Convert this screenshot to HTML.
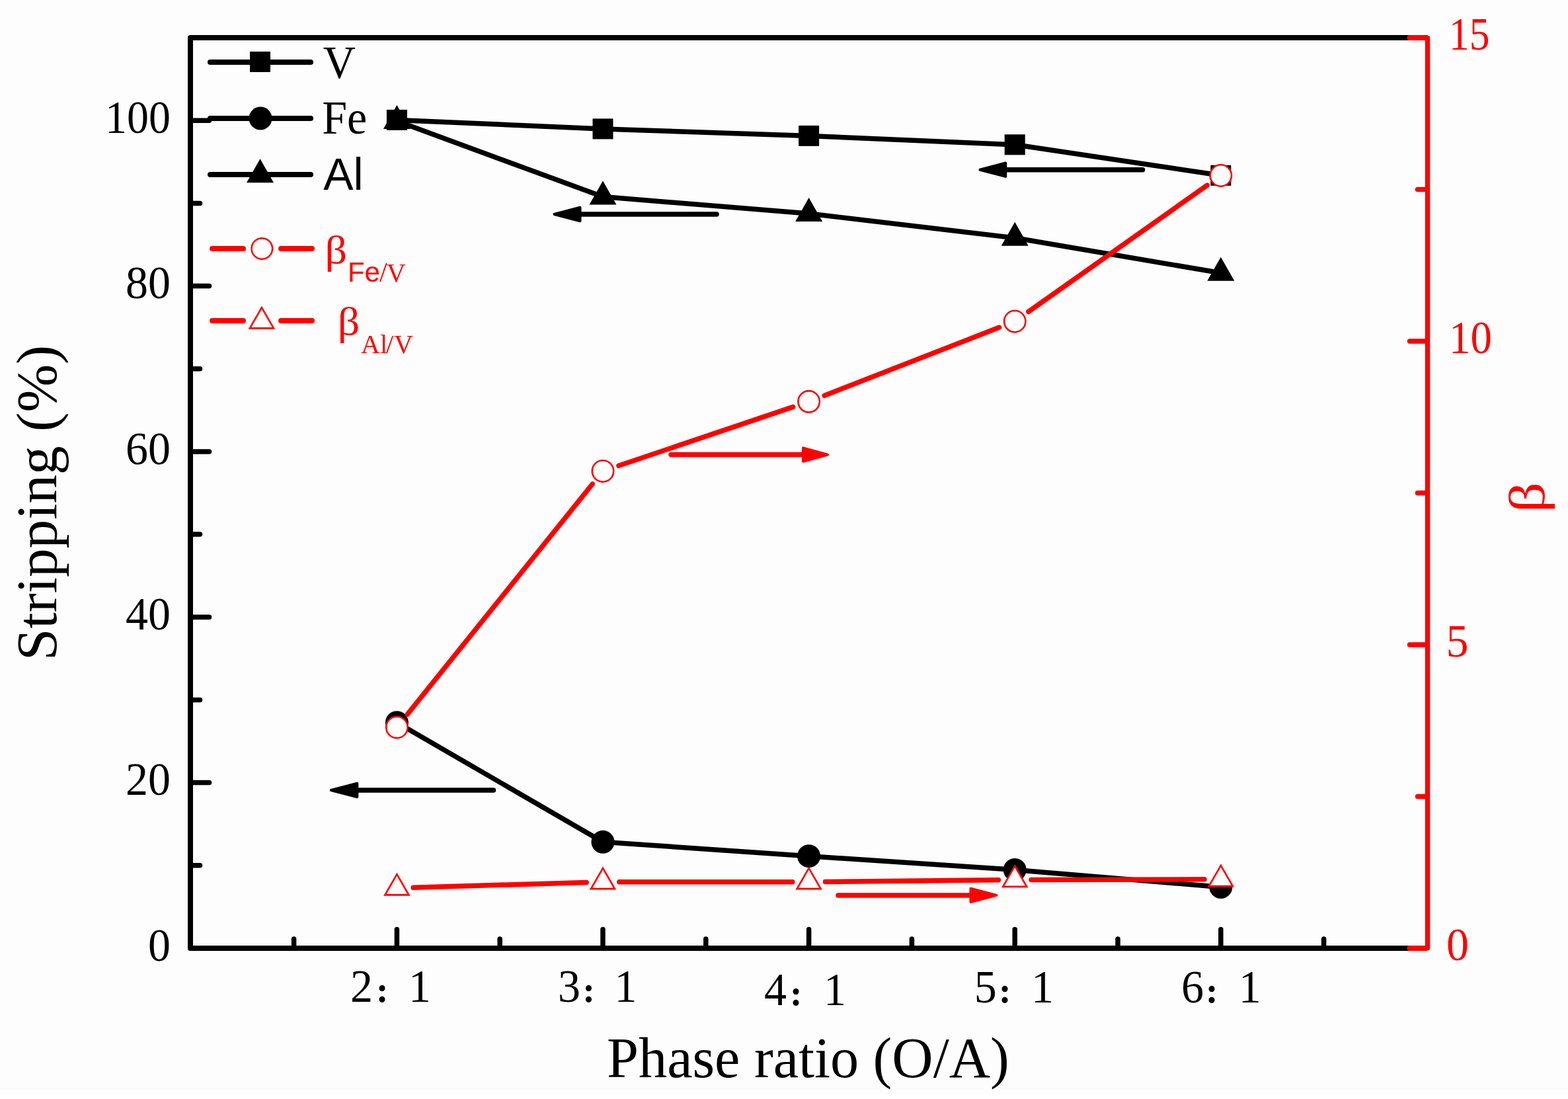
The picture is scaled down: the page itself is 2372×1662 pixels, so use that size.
<!DOCTYPE html><html><head><meta charset='utf-8'><title>Stripping vs phase ratio</title>
<style>html,body{margin:0;padding:0;background:#ffffff;}svg{display:block;}</style></head><body>
<svg width='2372' height='1662' viewBox='0 0 2372 1662'>
<rect x='0' y='0' width='2372' height='1662' fill='#ffffff'/>
<rect x='0' y='0' width='2372' height='1655' fill='#fdfdfd'/>
<g fill='none' stroke='#000' stroke-width='8' stroke-linejoin='round' stroke-linecap='butt'>
<path d='M2159.5 57 L288 57 L288 1434 L2159.5 1434'/>
</g>
<g stroke='#000' stroke-width='7.5' stroke-linecap='round'>
<line x1='290' y1='1434.0' x2='316.5' y2='1434.0'/>
<line x1='290' y1='1183.6' x2='316.5' y2='1183.6'/>
<line x1='290' y1='933.3' x2='316.5' y2='933.3'/>
<line x1='290' y1='682.9' x2='316.5' y2='682.9'/>
<line x1='290' y1='432.6' x2='316.5' y2='432.6'/>
<line x1='290' y1='182.2' x2='316.5' y2='182.2'/>
<line x1='290' y1='1308.8' x2='302.5' y2='1308.8'/>
<line x1='290' y1='1058.5' x2='302.5' y2='1058.5'/>
<line x1='290' y1='808.1' x2='302.5' y2='808.1'/>
<line x1='290' y1='557.7' x2='302.5' y2='557.7'/>
<line x1='290' y1='307.4' x2='302.5' y2='307.4'/>
<line x1='600.4' y1='1432' x2='600.4' y2='1405.5'/>
<line x1='912.0' y1='1432' x2='912.0' y2='1405.5'/>
<line x1='1223.6' y1='1432' x2='1223.6' y2='1405.5'/>
<line x1='1535.2' y1='1432' x2='1535.2' y2='1405.5'/>
<line x1='1846.8' y1='1432' x2='1846.8' y2='1405.5'/>
<line x1='444.6' y1='1432' x2='444.6' y2='1420'/>
<line x1='756.2' y1='1432' x2='756.2' y2='1420'/>
<line x1='1067.8' y1='1432' x2='1067.8' y2='1420'/>
<line x1='1379.4' y1='1432' x2='1379.4' y2='1420'/>
<line x1='1691.0' y1='1432' x2='1691.0' y2='1420'/>
<line x1='2002.6' y1='1432' x2='2002.6' y2='1420'/>
</g>
<g stroke='#ff0000' stroke-width='7.5' stroke-linecap='round' fill='none'>
<path d='M2159.5 57.5 L2159.5 1433.5' stroke-linecap='round'/>
<line x1='2157' y1='1434.0' x2='2132.5' y2='1434.0' stroke-width='8.2'/>
<line x1='2157' y1='975.0' x2='2132.5' y2='975.0'/>
<line x1='2157' y1='516.0' x2='2132.5' y2='516.0'/>
<line x1='2157' y1='57.0' x2='2132.5' y2='57.0' stroke-width='8.2'/>
<line x1='2157' y1='1204.5' x2='2144.5' y2='1204.5'/>
<line x1='2157' y1='745.5' x2='2144.5' y2='745.5'/>
<line x1='2157' y1='286.5' x2='2144.5' y2='286.5'/>
</g>
<g font-family="'Liberation Serif', 'Times New Roman', serif" font-size='68' fill='#000' text-anchor='end'>
<text x='258' y='1452.8' transform='translate(0 1452.8) scale(1 1.03) translate(0 -1452.8)'>0</text>
<text x='258' y='1202.4' transform='translate(0 1202.4) scale(1 1.03) translate(0 -1202.4)'>20</text>
<text x='258' y='952.1' transform='translate(0 952.1) scale(1 1.03) translate(0 -952.1)'>40</text>
<text x='258' y='701.7' transform='translate(0 701.7) scale(1 1.03) translate(0 -701.7)'>60</text>
<text x='258' y='451.4' transform='translate(0 451.4) scale(1 1.03) translate(0 -451.4)'>80</text>
<text x='258' y='201.0' textLength='98.9' lengthAdjust='spacingAndGlyphs' transform='translate(0 201.0) scale(1 1.03) translate(0 -201.0)'>100</text>
</g>
<g font-family="'Liberation Serif', 'Times New Roman', serif" font-size='68' fill='#ff0000'>
<text x='2188' y='1451.7' transform='translate(0 1451.7) scale(1 1.03) translate(0 -1451.7)'>0</text>
<text x='2187.5' y='992.7' transform='translate(0 992.7) scale(1 1.03) translate(0 -992.7)'>5</text>
<text x='2192' y='533.7' textLength='64.9' lengthAdjust='spacingAndGlyphs' transform='translate(0 533.7) scale(1 1.03) translate(0 -533.7)'>10</text>
<text x='2192' y='74.7' textLength='61.5' lengthAdjust='spacingAndGlyphs' transform='translate(0 74.7) scale(1 1.03) translate(0 -74.7)'>15</text>
</g>
<text font-family="'Liberation Serif', 'Times New Roman', serif" font-size='68' fill='#000' transform='translate(0 1515.5) scale(1 1.03) translate(0 -1515.5)'><tspan x='530.1' y='1515.5'>2</tspan><tspan x='570.0' y='1513.1' font-size='32' stroke='#000' stroke-width='4.2' font-family="'Liberation Serif', 'Noto Sans CJK SC', sans-serif">：</tspan><tspan x='618.0' y='1515.5'>1</tspan></text>
<text font-family="'Liberation Serif', 'Times New Roman', serif" font-size='68' fill='#000' transform='translate(0 1515.5) scale(1 1.03) translate(0 -1515.5)'><tspan x='843.9' y='1515.5'>3</tspan><tspan x='882.6' y='1513.1' font-size='32' stroke='#000' stroke-width='4.2' font-family="'Liberation Serif', 'Noto Sans CJK SC', sans-serif">：</tspan><tspan x='929.5' y='1515.5'>1</tspan></text>
<text font-family="'Liberation Serif', 'Times New Roman', serif" font-size='68' fill='#000' transform='translate(0 1520) scale(1 1.03) translate(0 -1520)'><tspan x='1156.0' y='1520'>4</tspan><tspan x='1196.0' y='1517.6' font-size='32' stroke='#000' stroke-width='4.2' font-family="'Liberation Serif', 'Noto Sans CJK SC', sans-serif">：</tspan><tspan x='1246.0' y='1520'>1</tspan></text>
<text font-family="'Liberation Serif', 'Times New Roman', serif" font-size='68' fill='#000' transform='translate(0 1516) scale(1 1.03) translate(0 -1516)'><tspan x='1473.7' y='1516'>5</tspan><tspan x='1512.0' y='1513.6' font-size='32' stroke='#000' stroke-width='4.2' font-family="'Liberation Serif', 'Noto Sans CJK SC', sans-serif">：</tspan><tspan x='1560.1' y='1516'>1</tspan></text>
<text font-family="'Liberation Serif', 'Times New Roman', serif" font-size='68' fill='#000' transform='translate(0 1516) scale(1 1.03) translate(0 -1516)'><tspan x='1787.0' y='1516'>6</tspan><tspan x='1825.0' y='1513.6' font-size='32' stroke='#000' stroke-width='4.2' font-family="'Liberation Serif', 'Noto Sans CJK SC', sans-serif">：</tspan><tspan x='1873.7' y='1516'>1</tspan></text>
<text x='918' y='1629' font-family="'Liberation Serif', 'Times New Roman', serif" font-size='86.3' fill='#000'>Phase ratio (O/A)</text>
<text transform='translate(85 999) rotate(-90)' x='0' y='0' font-family="'Liberation Serif', 'Times New Roman', serif" font-size='87.2' fill='#000'>Stripping (%)</text>
<text transform='translate(2336 775) rotate(-90) scale(1.17 1)' x='0' y='0' font-family="'Liberation Serif', 'Times New Roman', serif" font-size='77' fill='#ff0000'>β</text>
<g fill='none' stroke='#000' stroke-width='7.5' stroke-linejoin='round' stroke-linecap='round'>
<path d='M600.4 181.4 L912.0 194.9 L1223.6 205.4 L1535.2 218.8 L1846.8 265.3'/>
<path d='M600.4 1092.7 L912.0 1273.3 L1223.6 1294.7 L1535.2 1315.4 L1846.8 1341.5'/>
<path d='M600.4 183.0 L912.0 297.6 L1223.6 323.0 L1535.2 359.8 L1846.8 412.8'/>
</g>
<rect x='584.9' y='165.9' width='31' height='31' fill='#000'/>
<rect x='896.5' y='179.4' width='31' height='31' fill='#000'/>
<rect x='1208.1' y='189.9' width='31' height='31' fill='#000'/>
<rect x='1519.7' y='203.3' width='31' height='31' fill='#000'/>
<rect x='1831.3' y='249.8' width='31' height='31' fill='#000'/>
<circle cx='600.4' cy='1092.7' r='17.5' fill='#000'/>
<circle cx='912.0' cy='1273.3' r='17.5' fill='#000'/>
<circle cx='1223.6' cy='1294.7' r='17.5' fill='#000'/>
<circle cx='1535.2' cy='1315.4' r='17.5' fill='#000'/>
<circle cx='1846.8' cy='1341.5' r='17.5' fill='#000'/>
<path d='M600.4 159.0 L620.9 195.0 L579.9 195.0 Z' fill='#000'/>
<path d='M912.0 273.6 L932.5 309.6 L891.5 309.6 Z' fill='#000'/>
<path d='M1223.6 299.0 L1244.1 335.0 L1203.1 335.0 Z' fill='#000'/>
<path d='M1535.2 335.8 L1555.7 371.8 L1514.7 371.8 Z' fill='#000'/>
<path d='M1846.8 388.8 L1867.3 424.8 L1826.3 424.8 Z' fill='#000'/>
<g fill='none' stroke='#ff0000' stroke-width='7.5' stroke-linecap='round'>
<path d='M616.2 1080.3 L896.2 732.0 M935.9 704.3 L1199.7 615.4 M1247.1 598.2 L1511.7 495.1 M1555.8 471.4 L1826.2 280.1'/>
<path d='M625.2 1342.3 L887.2 1334.4 M936.8 1333.7 L1198.8 1333.7 M1248.4 1333.4 L1510.4 1330.8 M1560.0 1330.4 L1822.0 1329.8'/>
</g>
<circle cx='600.4' cy='1099.9' r='16.2' fill='#fdfdfd' stroke='#ff0000' stroke-width='2.6'/>
<circle cx='912.0' cy='712.4' r='16.2' fill='#fdfdfd' stroke='#ff0000' stroke-width='2.6'/>
<circle cx='1223.6' cy='607.3' r='16.2' fill='#fdfdfd' stroke='#ff0000' stroke-width='2.6'/>
<circle cx='1535.2' cy='486.0' r='16.2' fill='#fdfdfd' stroke='#ff0000' stroke-width='2.6'/>
<circle cx='1846.8' cy='265.5' r='16.2' fill='#fdfdfd' stroke='#ff0000' stroke-width='2.6'/>
<path d='M600.4 1322.2 L618.4 1353.4 L582.4 1353.4 Z' fill='#fdfdfd' stroke='#ff0000' stroke-width='2.7'/>
<path d='M912.0 1312.9 L930.0 1344.1 L894.0 1344.1 Z' fill='#fdfdfd' stroke='#ff0000' stroke-width='2.7'/>
<path d='M1223.6 1312.9 L1241.6 1344.1 L1205.6 1344.1 Z' fill='#fdfdfd' stroke='#ff0000' stroke-width='2.7'/>
<path d='M1535.2 1309.7 L1553.2 1340.9 L1517.2 1340.9 Z' fill='#fdfdfd' stroke='#ff0000' stroke-width='2.7'/>
<path d='M1846.8 1308.9 L1864.8 1340.1 L1828.8 1340.1 Z' fill='#fdfdfd' stroke='#ff0000' stroke-width='2.7'/>
<line x1='878.0' y1='324.0' x2='1084.0' y2='324.0' stroke='#000' stroke-width='7.5' stroke-linecap='round'/><path d='M838.5 324.0 L877.5 313.8 L877.5 334.2 Z' fill='#000' stroke='#000' stroke-width='4' stroke-linejoin='round'/>
<line x1='1521.7' y1='256.7' x2='1728.5' y2='256.7' stroke='#000' stroke-width='7.5' stroke-linecap='round'/><path d='M1482.5 256.7 L1521.2 246.5 L1521.2 266.9 Z' fill='#000' stroke='#000' stroke-width='4' stroke-linejoin='round'/>
<line x1='540.8' y1='1195.0' x2='746.5' y2='1195.0' stroke='#000' stroke-width='7.5' stroke-linecap='round'/><path d='M500.8 1195.0 L540.3 1184.8 L540.3 1205.2 Z' fill='#000' stroke='#000' stroke-width='4' stroke-linejoin='round'/>
<line x1='1214.5' y1='687.6' x2='1015.0' y2='687.6' stroke='#ff0000' stroke-width='7.5' stroke-linecap='round'/><path d='M1252.1 687.6 L1215.0 677.4 L1215.0 697.8 Z' fill='#ff0000' stroke='#ff0000' stroke-width='4' stroke-linejoin='round'/>
<line x1='1468.0' y1='1353.9' x2='1268.0' y2='1353.9' stroke='#ff0000' stroke-width='7.5' stroke-linecap='round'/><path d='M1507.3 1353.9 L1468.5 1343.7 L1468.5 1364.1 Z' fill='#ff0000' stroke='#ff0000' stroke-width='4' stroke-linejoin='round'/>
<g stroke='#000' stroke-width='8' stroke-linecap='round'>
<line x1='318' y1='94' x2='470' y2='94'/>
<line x1='318' y1='179' x2='470' y2='179'/>
<line x1='318' y1='264' x2='470' y2='264'/>
</g>
<rect x='378.0' y='78.0' width='31' height='31' fill='#000'/>
<circle cx='394.0' cy='179.0' r='17.5' fill='#000'/>
<path d='M393.5 240.2 L414.0 276.2 L373.0 276.2 Z' fill='#000'/>
<g stroke='#ff0000' stroke-width='8' stroke-linecap='round'>
<line x1='321' y1='376' x2='368' y2='376'/>
<line x1='425' y1='376' x2='472' y2='376'/>
<line x1='321' y1='485' x2='368' y2='485'/>
<line x1='425' y1='485' x2='472' y2='485'/>
</g>
<circle cx='396.3' cy='376' r='15.8' fill='#fdfdfd' stroke='#ff0000' stroke-width='2.5'/>
<path d='M395.9 465.1 L413.9 496.3 L377.9 496.3 Z' fill='#fdfdfd' stroke='#ff0000' stroke-width='2.7'/>
<text x='488.8' y='118' font-family="'Liberation Serif', 'Times New Roman', serif" font-size='68' fill='#000' transform='translate(0 118) scale(1 1.03) translate(0 -118)'>V</text>
<text x='487.2' y='201.7' font-family="'Liberation Serif', 'Times New Roman', serif" font-size='68' fill='#000' transform='translate(0 201.7) scale(1 1.045) translate(0 -201.7)'>Fe</text>
<text x='489.2' y='286.8' font-family="'Liberation Sans', Arial, sans-serif" font-size='68' fill='#000'>Al</text>
<text x='0' y='0' font-family="'Liberation Serif', 'Times New Roman', serif" font-size='60' fill='#ff0000' transform='translate(491.6 398.3) scale(1.1 1)'>β</text>
<text font-family="'Liberation Serif', 'Times New Roman', serif" fill='#ff0000'><tspan x='525.9' y='426' font-family="'Liberation Sans', Arial, sans-serif" font-size='42'>Fe</tspan><tspan x='573.9' y='426' font-size='42'>/</tspan><tspan x='584.8' y='426' font-size='40'>V</tspan></text>
<text x='0' y='0' font-family="'Liberation Serif', 'Times New Roman', serif" font-size='60' fill='#ff0000' transform='translate(510.8 506.4) scale(1.1 1)'>β</text>
<text font-family="'Liberation Serif', 'Times New Roman', serif" fill='#ff0000' font-size='40'><tspan x='546.1' y='534.3'>Al</tspan><tspan x='584.1' y='534.3'>/</tspan><tspan x='596' y='534.3'>V</tspan></text>
</svg></body></html>
